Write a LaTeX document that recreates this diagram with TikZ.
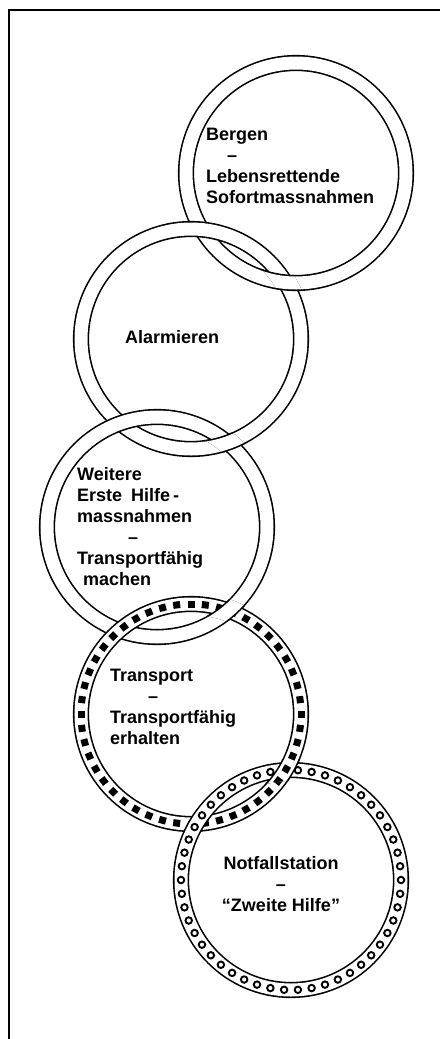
\documentclass[tikz,border=0pt]{standalone}
\usepackage{fontspec}
\setmainfont{Liberation Sans}
\usepackage{tikz}
\usetikzlibrary{calc}
\tikzset{
    chainring/.style={
        circle, draw, double, double distance=13pt,
        line width=1.6pt, minimum size=220pt, inner sep=0pt
    },
    ringtext/.style={
        font=\bfseries\fontsize{18}{21}\selectfont,
        align=left, anchor=west, inner sep=0pt
    },
    squaremark/.style={
        rectangle, fill=black, minimum size=7pt, inner sep=0pt
    },
    dotmark/.style={
        circle, draw, fill=white, line width=1.9pt,
        minimum size=6.5pt, inner sep=0pt
    }
}

\begin{document}
\begin{tikzpicture}[x=1pt, y=-1pt]
    \useasboundingbox (0,0) rectangle (440,1039);

    % frame
    \draw[line width=1.2pt] (9,1039) -- (9,10) -- (440,10);

    % the chain, top to bottom
    \node[chainring] (bergen) at (296,173) {};
    \node[chainring] (alarm) at (191,339) {};
    \node[chainring] (weitere) at (157,527) {};
    \node[chainring] (transport) at (191,714) {};
    \foreach \i in {1,...,48}
        \node[squaremark, rotate=-7.5*\i] (sq\i) at ($(transport)+(7.5*\i:110)$) {};
    \node[chainring] (notfall) at (291,880) {};
    \foreach \i in {1,...,50}
        \node[dotmark] (dot\i) at ($(notfall)+(7.2*\i:110)$) {};

    % upper ring lies on top at the right crossing
    \begin{scope}[even odd rule]
        \clip (285,283) circle (30);
        \clip (alarm) circle (121) (alarm) circle (99);
        \node[chainring] (bergenover) at (bergen) {};
    \end{scope}
    \begin{scope}[even odd rule]
        \clip (228,443) circle (30);
        \clip (weitere) circle (121) (weitere) circle (99);
        \node[chainring] (alarmover) at (alarm) {};
    \end{scope}
    \begin{scope}[even odd rule]
        \clip (229,611) circle (30);
        \clip (transport) circle (121) (transport) circle (99);
        \node[chainring] (weitereover) at (weitere) {};
    \end{scope}
    \begin{scope}[even odd rule]
        \clip (286,770) circle (30);
        \clip (notfall) circle (121) (notfall) circle (99);
        \node[chainring] (transportover) at (transport) {};
        \foreach \i in {1,...,48}
            \node[squaremark, rotate=-7.5*\i] (sqover\i) at ($(transport)+(7.5*\i:110)$) {};
    \end{scope}

    % texts
    \node[ringtext] (bergentext) at (206,166)
        {Bergen\\\hspace*{21pt}--\\Lebensrettende\\Sofortmassnahmen};
    \node[ringtext] (alarmtext) at (125,337) {Alarmieren};
    \node[ringtext] (weiteretext) at (77,527)
        {Weitere\\Erste\hspace{0.5em}Hilfe\,-\\massnahmen\\\hspace*{51pt}--\\Transportfähig\\\hspace*{6pt}machen};
    \node[ringtext] (transporttext) at (110,707)
        {Transport\\\hspace*{38pt}--\\Transportfähig\\erhalten};
    \node[ringtext, align=center, anchor=center] (notfalltext) at (281,884)
        {Notfallstation\\--\\“Zweite Hilfe”};
\end{tikzpicture}
\end{document}
